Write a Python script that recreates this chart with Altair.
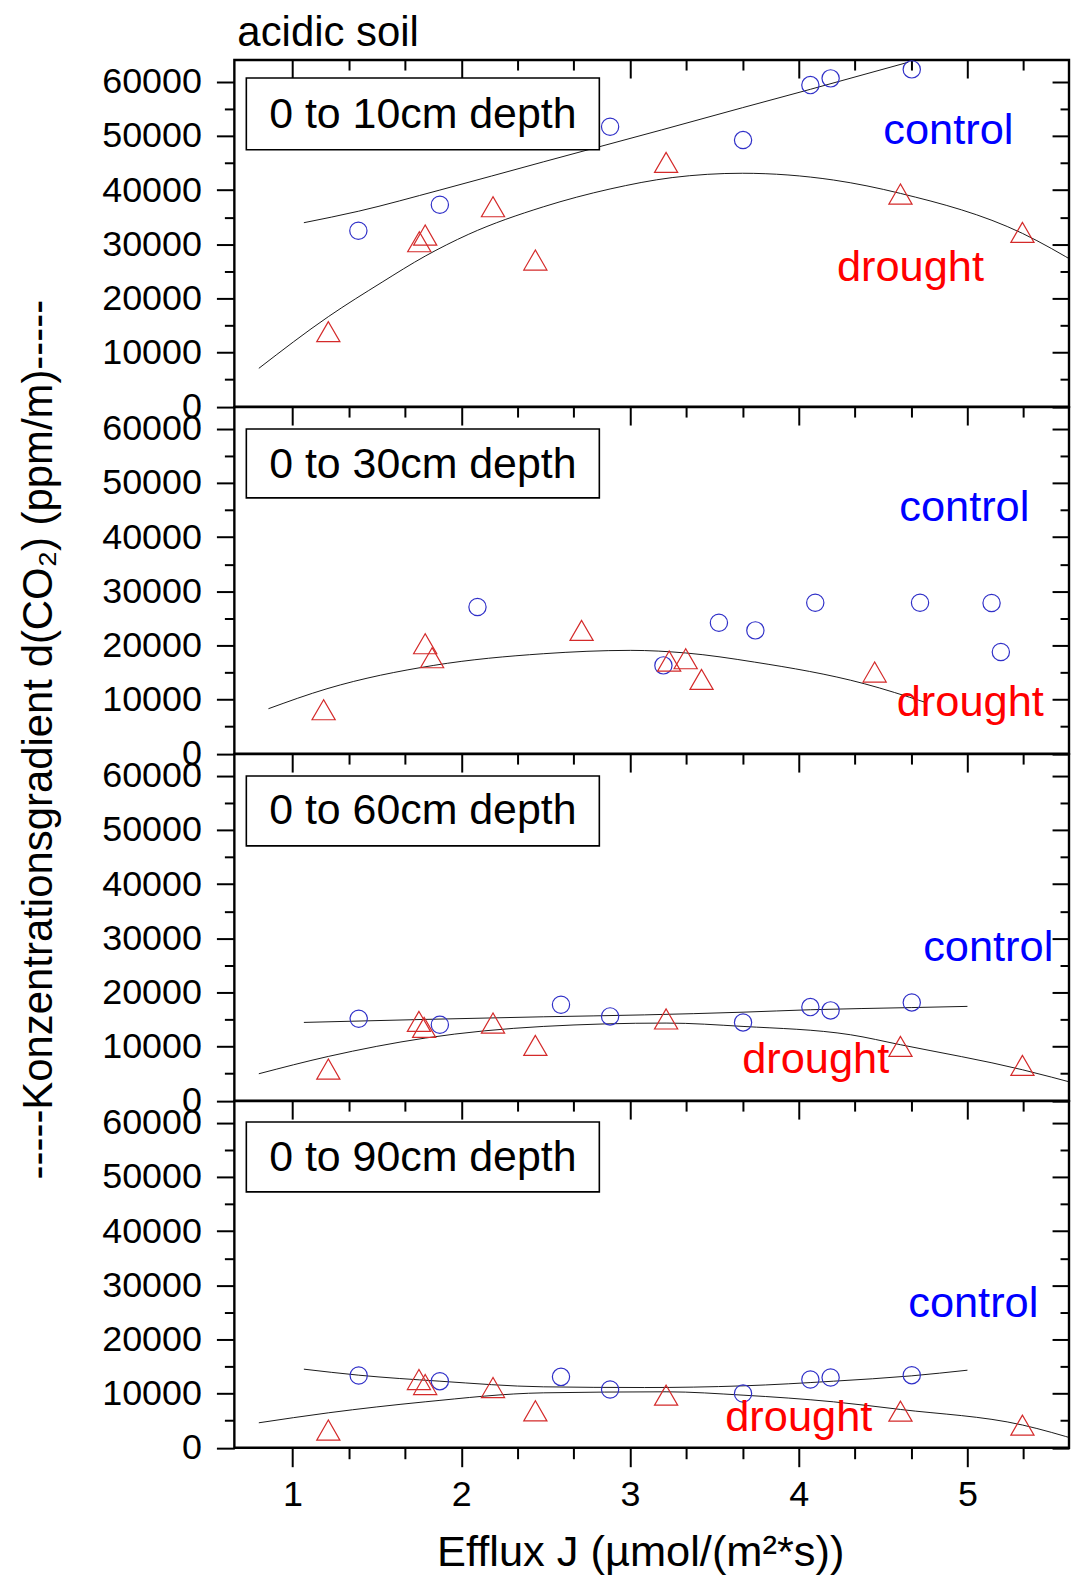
import altair as alt
import pandas as pd

FONT = "Liberation Sans"
BLUE_PT = "#3030c8"
RED_PT = "#d42a2a"

# ---------------- text ----------------
main_title = "acidic soil"
x_title = "Efflux J (µmol/(m²*s))"
y_title = "-----Konzentrationsgradient d(CO₂) (ppm/m)-----"
depth_labels = ["0 to 10cm depth", "0 to 30cm depth", "0 to 60cm depth", "0 to 90cm depth"]
series_labels = ["control", "drought"]

# ---------------- ticks ----------------
y_major = [0, 10000, 20000, 30000, 40000, 50000, 60000]
y_minor = [5000, 15000, 25000, 35000, 45000, 55000]
x_major = [1, 2, 3, 4, 5]
x_minor = [1.333, 1.667, 2.333, 2.667, 3.333, 3.667, 4.333, 4.667, 5.333]

# ---------------- panel 1 : 0-10 cm ----------------
p1_ctrl_x = [1.390, 1.873, 2.882, 3.670, 4.069, 4.189, 4.670]
p1_ctrl_y = [32490, 37290, 51690, 49230, 59380, 60620, 62280]
p1_drt_x = [1.212, 1.751, 1.786, 2.188, 2.439, 3.214, 4.603, 5.326]
p1_drt_y = [13850, 30460, 31690, 36920, 27080, 45110, 39260, 32180]
p1_ctrl_fit_x = [1.067, 1.392, 1.873, 2.486, 3.187, 3.666, 4.069, 4.650]
p1_ctrl_fit_y = [33970, 36100, 40000, 45200, 51100, 55200, 58600, 63600]
p1_drt_fit_x = [0.800, 1.212, 1.531, 1.786, 2.041, 2.486, 2.882, 3.250, 3.666, 4.206, 4.603, 5.326, 5.668]
p1_drt_fit_y = [7080, 16620, 23000, 27800, 31800, 36900, 40200, 42300, 43100, 41850, 39380, 32000, 26150]

# ---------------- panel 2 : 0-30 cm ----------------
p2_ctrl_x = [2.096, 3.198, 3.527, 3.743, 4.098, 4.719, 5.143, 5.198]
p2_ctrl_y = [27080, 16310, 24180, 22770, 27880, 27880, 27820, 18770]
p2_drt_x = [1.184, 1.786, 1.827, 2.713, 3.232, 3.330, 3.424, 4.450]
p2_drt_y = [8120, 20310, 17720, 22770, 17110, 17540, 13720, 15080]
p2_drt_fit_x = [0.857, 1.204, 1.837, 2.486, 3.004, 3.330, 3.737, 4.389, 4.745]
p2_drt_fit_y = [8310, 12000, 16310, 18460, 19080, 18600, 16920, 12920, 9540]

# ---------------- panel 3 : 0-60 cm ----------------
p3_ctrl_x = [1.392, 1.873, 2.591, 2.882, 3.670, 4.069, 4.189, 4.670]
p3_ctrl_y = [15140, 14030, 17720, 15570, 14460, 17290, 16680, 18150]
p3_drt_x = [1.212, 1.749, 1.780, 2.188, 2.439, 3.214, 4.603, 5.326]
p3_drt_y = [5850, 14650, 13540, 14340, 10220, 15100, 10030, 6520]
p3_ctrl_fit_x = [1.067, 2.486, 3.086, 3.670, 4.069, 4.670, 5.000]
p3_ctrl_fit_y = [14460, 15500, 15850, 16350, 16800, 17200, 17420]
p3_drt_fit_x = [0.800, 1.212, 1.786, 2.486, 3.214, 3.670, 4.307, 4.603, 5.326, 5.668]
p3_drt_fit_y = [4980, 8180, 11570, 13720, 14340, 13720, 12180, 10340, 5720, 2950]

# ---------------- panel 4 : 0-90 cm ----------------
p4_ctrl_x = [1.392, 1.873, 2.591, 2.882, 3.670, 4.069, 4.189, 4.670]
p4_ctrl_y = [13340, 12290, 13090, 10760, 10020, 12600, 12970, 13400]
p4_drt_x = [1.212, 1.749, 1.786, 2.188, 2.439, 3.214, 4.603, 5.326]
p4_drt_y = [3260, 12600, 11680, 11120, 6820, 9710, 6760, 4180]
p4_ctrl_fit_x = [1.067, 1.392, 1.873, 2.486, 3.086, 3.670, 4.206, 4.670, 5.000]
p4_ctrl_fit_y = [14510, 13400, 12290, 11250, 11120, 11430, 12290, 13280, 14320]
p4_drt_fit_x = [0.800, 1.212, 1.786, 2.486, 3.214, 3.670, 4.206, 4.603, 5.326, 5.668]
p4_drt_fit_y = [4610, 6450, 8480, 10140, 10330, 9710, 8480, 7070, 4200, 1300]

# ---------------- layout constants ----------------
W, H = 837, 347.6
xs = alt.Scale(domain=[0.655, 5.602], nice=False, zero=False)
ys = alt.Scale(domain=[0, 64000], nice=False, zero=False)
axis_df = pd.DataFrame({"x": [1.0], "y": [0.0]})
one = pd.DataFrame({"k": [0]})

TICK = dict(tickColor="black", tickWidth=2, domain=False, grid=False, title=None)
BIG = 43.5
TICKFONT = 36


def ax_layer(x_axis=None, y_axis=None):
    return alt.Chart(axis_df).mark_point(opacity=0).encode(
        x=alt.X("x:Q", scale=xs, axis=x_axis),
        y=alt.Y("y:Q", scale=ys, axis=y_axis),
    )


def line_layer(xv, yv):
    df = pd.DataFrame({"x": xv, "y": yv})
    return alt.Chart(df).mark_line(
        color="black", strokeWidth=1, interpolate="monotone", clip=True, opacity=0.9
    ).encode(
        x=alt.X("x:Q", scale=xs, axis=None),
        y=alt.Y("y:Q", scale=ys, axis=None),
    )


def point_layer(xv, yv, shape, color, size):
    df = pd.DataFrame({"x": xv, "y": yv})
    return alt.Chart(df).mark_point(
        shape=shape, size=size, filled=False, color=color, strokeWidth=1.2, opacity=1
    ).encode(
        x=alt.X("x:Q", scale=xs, axis=None),
        y=alt.Y("y:Q", scale=ys, axis=None),
    )


def text_layer(text, x, y, color, size=BIG, align="center"):
    return alt.Chart(one).mark_text(
        text=text, font=FONT, fontSize=size, align=align, baseline="alphabetic", color=color
    ).encode(x=alt.value(x), y=alt.value(y))


def panel(cx, cy, dx, dy, cfx, cfy, dfx, dfy, depth, box, ctrl_pos, drt_pos,
          bottom=False, ytitle=False, title=None):
    layers = []
    if cfx:
        layers.append(line_layer(cfx, cfy))
    layers.append(line_layer(dfx, dfy))
    layers.append(point_layer(cx, cy, "circle", BLUE_PT, 300))
    layers.append(point_layer(dx, dy, "triangle-up", RED_PT, 540))
    # depth label box
    layers.append(
        alt.Chart(one).mark_rect(fill="white", stroke="black", strokeWidth=1.6).encode(
            x=alt.value(12), x2=alt.value(366), y=alt.value(box[0]), y2=alt.value(box[1])
        )
    )
    layers.append(text_layer(depth, 189, box[2], "black", size=43))
    layers.append(text_layer(series_labels[0], ctrl_pos[0], ctrl_pos[1], "#0000ff"))
    layers.append(text_layer(series_labels[1], drt_pos[0], drt_pos[1], "#ff0000"))
    if title is not None:
        layers.append(text_layer(title, 3, -14, "black", size=42, align="left"))

    # left major axis with labels
    left_kw = dict(TICK)
    left_kw.update(
        orient="left", values=y_major, format="d", tickSize=18, labels=True,
        labelFont=FONT, labelFontSize=TICKFONT, labelColor="black", labelPadding=15,
        labelFlush=False, labelOverlap=False,
    )
    if ytitle:
        left_kw.update(
            title=y_title, titleFont=FONT, titleFontSize=42, titleFontWeight="normal",
            titleColor="black", titleAngle=270, titleX=-196, titleY=333,
            titleAlign="center", titleBaseline="middle",
        )
    layers.append(ax_layer(y_axis=alt.Axis(**left_kw)))
    layers.append(ax_layer(y_axis=alt.Axis(orient="left", values=y_minor, tickSize=10, labels=False, **TICK)))
    # right inward ticks
    layers.append(ax_layer(y_axis=alt.Axis(orient="right", values=y_major, tickSize=17, offset=-17, labels=False, **TICK)))
    layers.append(ax_layer(y_axis=alt.Axis(orient="right", values=y_minor, tickSize=9, offset=-9, labels=False, **TICK)))
    # top inward ticks
    layers.append(ax_layer(x_axis=alt.Axis(orient="top", values=x_major, tickSize=18, offset=-18, labels=False, **TICK)))
    layers.append(ax_layer(x_axis=alt.Axis(orient="top", values=x_minor, tickSize=10, offset=-10, labels=False, **TICK)))
    if bottom:
        bot_kw = dict(TICK)
        bot_kw.update(
            orient="bottom", values=x_major, format="d", tickSize=19, labels=True,
            labelFont=FONT, labelFontSize=TICKFONT, labelColor="black", labelPadding=11,
            labelFlush=False, labelOverlap=False,
            title=x_title, titleFont=FONT, titleFontSize=BIG, titleFontWeight="normal",
            titleColor="black", titleX=407, titleY=118, titleAlign="center",
            titleBaseline="alphabetic", titleAngle=0,
        )
        layers.append(ax_layer(x_axis=alt.Axis(**bot_kw)))
        layers.append(ax_layer(x_axis=alt.Axis(orient="bottom", values=x_minor, tickSize=11, labels=False, **TICK)))

    ch = alt.layer(*layers).resolve_axis(x="independent", y="independent").properties(width=W, height=H)
    return ch


p1 = panel(p1_ctrl_x, p1_ctrl_y, p1_drt_x, p1_drt_y, p1_ctrl_fit_x, p1_ctrl_fit_y,
           p1_drt_fit_x, p1_drt_fit_y, depth_labels[0], (18, 90, 68), (716, 84), (678, 222),
           title=main_title)
p2 = panel(p2_ctrl_x, p2_ctrl_y, p2_drt_x, p2_drt_y, None, None,
           p2_drt_fit_x, p2_drt_fit_y, depth_labels[1], (22, 91, 71), (732, 114), (738, 310),
           ytitle=True)
p3 = panel(p3_ctrl_x, p3_ctrl_y, p3_drt_x, p3_drt_y, p3_ctrl_fit_x, p3_ctrl_fit_y,
           p3_drt_fit_x, p3_drt_fit_y, depth_labels[2], (22, 92, 70), (756, 207), (583, 320))
p4 = panel(p4_ctrl_x, p4_ctrl_y, p4_drt_x, p4_drt_y, p4_ctrl_fit_x, p4_ctrl_fit_y,
           p4_drt_fit_x, p4_drt_fit_y, depth_labels[3], (21, 91, 70), (741, 216), (566, 331),
           bottom=True)

chart = (
    alt.vconcat(p1, p2, p3, p4, spacing=0, bounds="flush")
    .properties(padding={"left": 8, "top": 0, "right": 0, "bottom": 0})
    .configure_view(stroke="black", strokeWidth=2.4)
)

chart.save("out.html", embed_options={"renderer": "svg", "actions": False})
